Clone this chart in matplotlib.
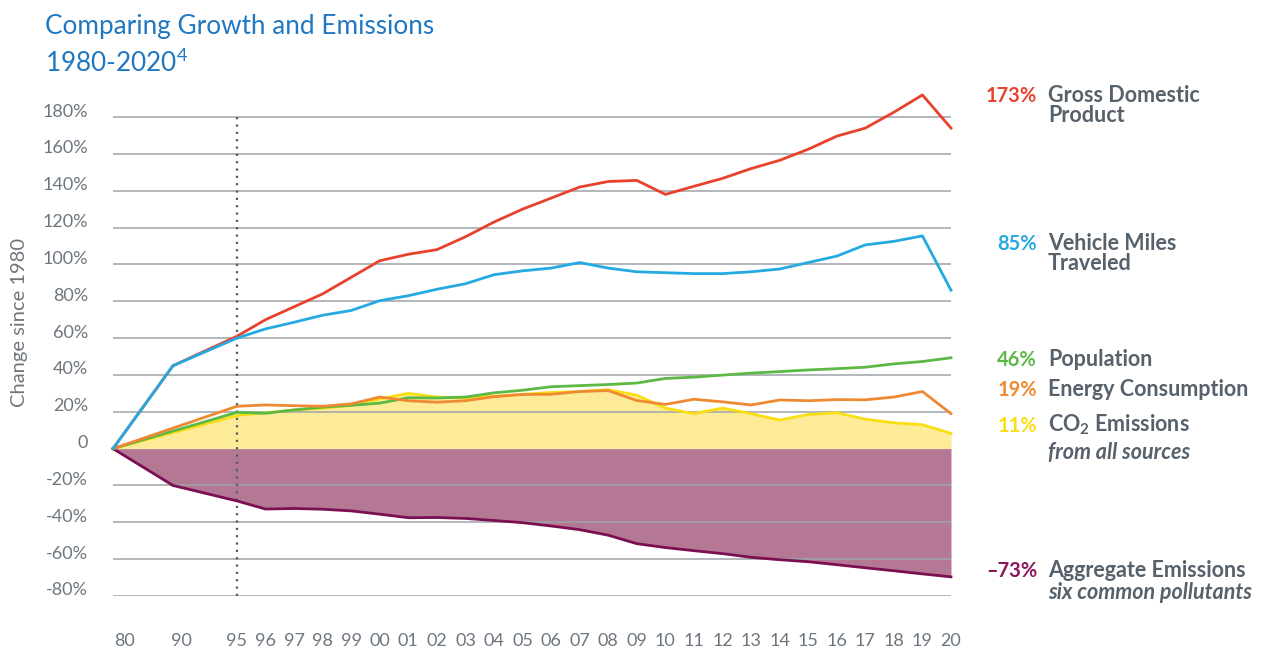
import matplotlib
matplotlib.use("Agg")
import numpy as np
import matplotlib.pyplot as plt

plt.rcParams["font.family"] = ["Lato", "DejaVu Sans"]
plt.rcParams["mathtext.fontset"] = "custom"
plt.rcParams["mathtext.default"] = "regular"

# ---- data (percent change since 1980) ----
YEARS = [1980, 1990] + list(range(1995, 2021))
GDP = [0, 45, 61, 70, 77, 84, 93, 102, 105.5, 108, 115, 123, 130, 136, 142, 145,
       145.6, 138, 142.4, 146.7, 152, 156.5, 162.5, 169.6, 174, 182.6, 192, 174]
VMT = [0, 45, 60, 65, 68.6, 72.4, 75, 80.3, 83, 86.5, 89.5, 94.4, 96.5, 98, 101, 98,
       96, 95.5, 95, 95, 96, 97.5, 101, 104.5, 110.6, 112.5, 115.5, 86]
POP = [0, None, 19.7, 19.2, 21, 22.5, 23.5, 24.7, 27.6, 27.5, 28, 30.3, 31.7, 33.6,
       34.2, 34.8, 35.6, 38.1, 38.8, 39.9, 41, 41.8, 42.7, 43.4, 44.2, 46, 47.3, 49.3]
ENERGY = [0, None, 23, 23.7, 23.3, 23, 24.3, 28, 26, 25.2, 26, 28.2, 29.4, 29.5,
          31, 31.5, 26.1, 24, 26.8, 25.4, 23.7, 26.4, 26, 26.6, 26.5, 28, 31, 19]
CO2 = [0, None, 18, 19.5, 21, 22, 23.5, 27, 30, 28, 27.5, 28.5, 29.5, 30.5, 31, 32,
       29, 22, 19, 22, 19, 15.5, 18.5, 19.5, 16, 14, 13, 8.3]
AGG = [0, -20, -28.4, -32.8, -32.5, -32.9, -33.8, -35.6, -37.5, -37.4, -37.9, -39,
       -40.2, -42, -44, -47, -51.6, -53.7, -55.4, -57, -59, -60.3, -61.4, -63,
       -64.7, -66.3, -68, -69.6]

TICK_YEARS = [1980, 1990] + list(range(1995, 2021))
TICK_LABELS = [f"{y % 100:02d}" for y in TICK_YEARS]
Y_TICKS = [180, 160, 140, 120, 100, 80, 60, 40, 20, 0, -20, -40, -60, -80]

END_PCT = ["173%", "85%", "46%", "19%", "11%", "\u201373%"]
END_NAMES = [["Gross Domestic", "Product"], ["Vehicle Miles", "Traveled"],
             ["Population"], ["Energy Consumption"], ["CO$_2$ Emissions"],
             ["Aggregate Emissions"]]
END_SUB = [None, None, None, None, "from all sources", "six common pollutants"]

C_RED, C_BLUE, C_GREEN = "#e8412c", "#24a9e1", "#5cb946"
C_ORANGE, C_YELLOW, C_PURPLE = "#ef8a33", "#f9de12", "#7b0f52"
C_YFILL, C_PFILL = "#fdeb98", "#b47894"
GREY = "#6d767f"
NAME_GREY = "#56616b"
END_COLOURS = [C_RED, C_BLUE, C_GREEN, C_ORANGE, C_YELLOW, "#8c1458"]


def xpos(year):
    # axis is squeezed before 1995
    return {1980: -4.34, 1990: -2.24}.get(year, year - 1995)


def tick_x(year):
    return {1980: -3.92, 1990: -1.93}.get(year, year - 1995)


def series(vals):
    pts = [(xpos(y), v) for y, v in zip(YEARS, vals) if v is not None]
    return np.array([p[0] for p in pts]), np.array([p[1] for p in pts])


W, H = 1268, 661
fig = plt.figure(figsize=(W / 100, H / 100), dpi=100)
ax_l, ax_r, ax_b, ax_t = 113, 951, 596, 89.4
ax = fig.add_axes([ax_l / W, 1 - ax_b / H, (ax_r - ax_l) / W, (ax_b - ax_t) / H])
ax.set_xlim(xpos(1980), xpos(2020))
ax.set_ylim(-80, 195)
ax.axis("off")

# fills
x, y = series(CO2)
ax.fill_between(x, 0, y, color=C_YFILL, lw=0, zorder=1)
x, y = series(AGG)
ax.fill_between(x, 0, y, color=C_PFILL, lw=0, zorder=1)

# grid
for v in Y_TICKS:
    if v != 0:
        ax.hlines(v, xpos(1980), xpos(2020), color="#9ea3a8", lw=1.1, zorder=2)
    lbl = "0" if v == 0 else f"{v}%"
    ax.text(-0.03, v + 3, lbl, transform=ax.get_yaxis_transform(),
            ha="right", va="center", fontsize=13, color=GREY)

ax.vlines(0, -80, 180, color="#555b60", lw=1.6, linestyles=(0, (1, 2.3)), zorder=2)

for vals, col in [(AGG, C_PURPLE), (CO2, C_YELLOW), (POP, C_GREEN),
                  (ENERGY, C_ORANGE), (GDP, C_RED), (VMT, C_BLUE)]:
    x, y = series(vals)
    ax.plot(x, y, color=col, lw=2.0, solid_joinstyle="round", zorder=3, clip_on=False)

for yr, lbl in zip(TICK_YEARS, TICK_LABELS):
    ax.text(tick_x(yr), -0.089, lbl, transform=ax.get_xaxis_transform(),
            ha="center", va="center", fontsize=13, color=GREY)

# title
fig.text(45 / W, 1 - 34.3 / H, "Comparing Growth and Emissions", fontsize=18.8,
         color="#1f78c1", va="baseline")
fig.text(45 / W, 1 - 71.7 / H, "1980-2020$^4$", fontsize=18.8,
         color="#1f78c1", va="baseline")

fig.text(20 / W, 1 - 322 / H, "Change since 1980", rotation=90, fontsize=14.5,
         color=GREY, ha="center", va="center")

# end labels
BASELINES = [101.7, 250, 365.7, 395.7, 431.7, 576.7]
LINE_GAP = 20
SUB_BASE = [None, None, None, None, 458.5, 599]
for pct, lines, sub, col, b, sb in zip(END_PCT, END_NAMES, END_SUB, END_COLOURS,
                                       BASELINES, SUB_BASE):
    fig.text(1037 / W, 1 - b / H, pct, ha="right", va="baseline", fontsize=14.5,
             fontweight="bold", color=col)
    for i, line in enumerate(lines):
        fig.text(1048 / W, 1 - (b + i * LINE_GAP) / H, line, ha="left",
                 va="baseline", fontsize=15.5, fontweight="bold", color=NAME_GREY)
    if sub:
        fig.text(1048 / W, 1 - sb / H, sub, ha="left", va="baseline", fontsize=15.5,
                 fontweight="bold", fontstyle="italic", color=NAME_GREY)

fig.savefig("out.png", dpi=100)
